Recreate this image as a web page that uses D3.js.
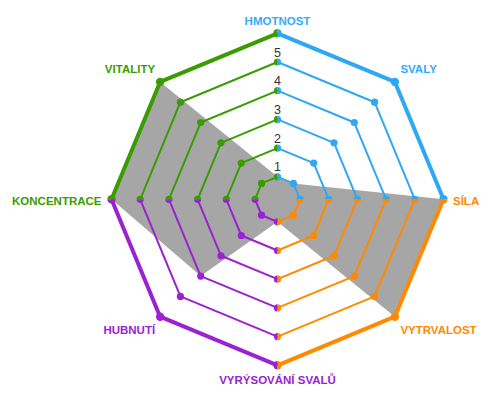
<!DOCTYPE html>
<html>
<head>
<meta charset="utf-8">
<script src="https://cdn.jsdelivr.net/npm/d3@7"></script>
<style>
  html, body { margin: 0; padding: 0; background: #fff; }
  svg { display: block; }
</style>
</head>
<body>
<div id="chart"></div>
<script>
// ---- data ----
const axes = ["HMOTNOST", "SVALY", "SÍLA", "VYTRVALOST", "VYRÝSOVÁNÍ SVALŮ", "HUBNUTÍ", "KONCENTRACE", "VITALITY"];
const values = [1, 1, 6, 6, 1, 4, 6, 6];
const levels = [1, 2, 3, 4, 5, 6];
const tickLabels = ["1", "2", "3", "4", "5"];
const groupColors = ["#2ea8f4", "#ff8a00", "#9a22d0", "#3a9c00"];
const labelColors = ["#33aaff", "#33aaff", "#ff8a00", "#ff8a00", "#9a22d0", "#9a22d0", "#3a9c00", "#3a9c00"];

// ---- layout ----
const W = 497, H = 399;
const cx = 277.5, cy = 199.3;
const svg = d3.select("#chart").append("svg").attr("width", W).attr("height", H);
const g = svg.append("g").attr("transform", `translate(${cx},${cy})`);

const r = d3.scaleLinear().domain([1, 6]).range([22.5, 166]);
const angle = d3.scalePoint().domain(d3.range(axes.length + 1)).range([0, 2 * Math.PI]);
const ang = i => angle(i % axes.length);
const pt = (i, v) => [r(v) * Math.sin(ang(i)), -r(v) * Math.cos(ang(i))];

// data polygon
g.append("path")
  .datum(values)
  .attr("d", d3.lineRadial().angle((d, i) => ang(i)).radius(d => r(d)).curve(d3.curveLinearClosed))
  .attr("fill", "#a6a6a6")
  .attr("stroke", "none");

// rings: each quadrant a polyline in its own colour
const maxLevel = d3.max(levels);
const line = d3.line();
levels.forEach(lv => {
  const outer = lv === maxLevel;
  groupColors.forEach((col, q) => {
    const idx = [2 * q, 2 * q + 1, 2 * q + 2];
    g.append("path")
      .attr("d", line(idx.map(i => pt(i, lv))))
      .attr("fill", "none")
      .attr("stroke", col)
      .attr("stroke-width", outer ? 4 : 2)
      .attr("stroke-linejoin", "round");
  });
});

// dots
const dotArc = d3.arc().innerRadius(0);
levels.forEach(lv => {
  const outer = lv === maxLevel;
  const rr = outer ? 4.2 : 3.6;
  groupColors.forEach((col, q) => {
    const a0 = ang(2 * q), a2 = ang(2 * q + 2) + (q === 3 ? 2 * Math.PI : 0);
    const parts = [
      { i: 2 * q, s: a0, e: a0 + Math.PI },
      { i: 2 * q + 1, s: 0, e: 2 * Math.PI },
      { i: 2 * q + 2, s: a2 - Math.PI, e: a2 }
    ];
    parts.forEach(p => {
      const [x, y] = pt(p.i, lv);
      g.append("path")
        .attr("transform", `translate(${x},${y})`)
        .attr("d", dotArc({ outerRadius: rr, startAngle: p.s, endAngle: p.e }))
        .attr("fill", col);
    });
  });
});

// tick labels
tickLabels.forEach((t, k) => {
  g.append("text")
    .attr("x", 0)
    .attr("y", -r(levels[k]) - 5.5)
    .attr("text-anchor", "middle")
    .attr("font-family", "'Liberation Sans', Arial, sans-serif")
    .attr("font-size", 12.5)
    .attr("fill", "#333")
    .text(t);
});

// axis labels
axes.forEach((name, i) => {
  const [x, y] = pt(i, maxLevel);
  const s = Math.sin(ang(i)), c = Math.cos(ang(i));
  let anchor = "middle", dx = 0, dy = 0;
  if (Math.abs(s) < 0.01) { dy = c > 0 ? -8 : 19; }
  else if (Math.abs(c) < 0.01) { anchor = s > 0 ? "start" : "end"; dx = s > 0 ? 9.5 : -10; dy = 5.7; }
  else { anchor = s > 0 ? "start" : "end"; dx = s > 0 ? 5.5 : -5; dy = c > 0 ? -9 : 17.8; }
  g.append("text")
    .attr("x", x + dx)
    .attr("y", y + dy)
    .attr("text-anchor", anchor)
    .attr("font-family", "'Liberation Sans', Arial, sans-serif")
    .attr("font-weight", "bold")
    .attr("font-size", 11.5)
    .attr("fill", labelColors[i])
    .text(name);
});
</script>
</body>
</html>
